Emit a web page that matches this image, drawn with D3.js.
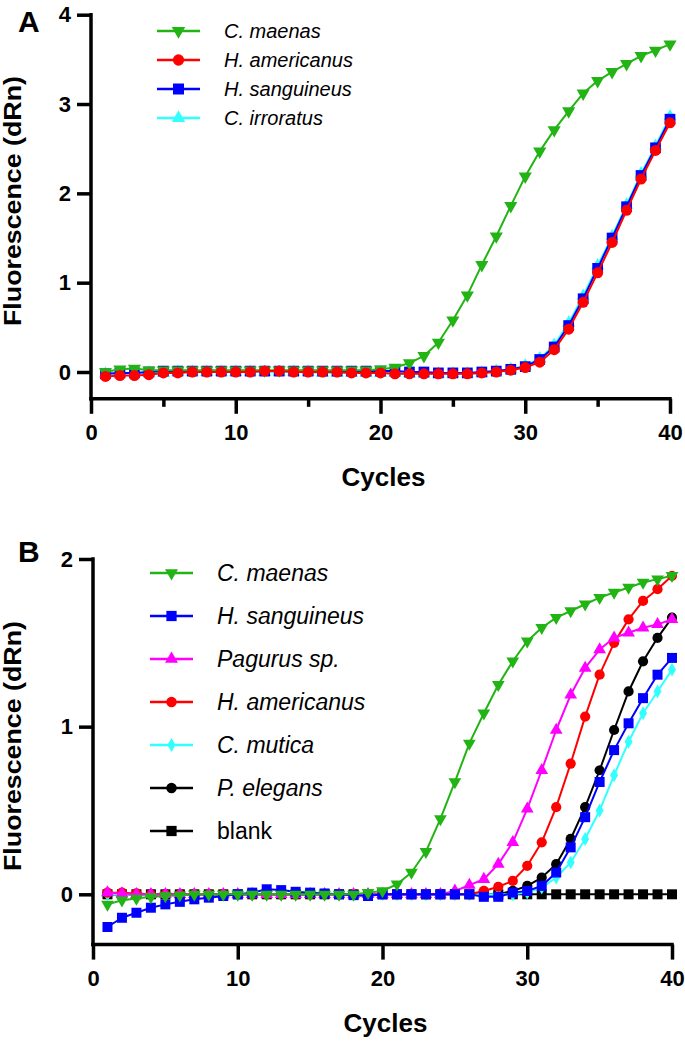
<!DOCTYPE html>
<html><head><meta charset="utf-8">
<script src="https://cdn.jsdelivr.net/npm/d3@7"></script>
<style>body{margin:0;background:#fff} svg{display:block} text{font-family:"Liberation Sans",Arial,Helvetica,sans-serif}</style>
</head><body><svg id="c" width="685" height="1042"></svg>
<script>
// ---------- DATA ----------
const cycles = [1,2,3,4,5,6,7,8,9,10,11,12,13,14,15,16,17,18,19,20,21,22,23,24,25,26,27,28,29,30,31,32,33,34,35,36,37,38,39,40];
const xTickLabels = [0,10,20,30,40];
const xMinorTicksA = [5,15,25,35];
const yTickLabelsA = [0,1,2,3,4];
const yTickLabelsB = [0,1,2];

// Panel A
const namesA = ["C. maenas","H. americanus","H. sanguineus","C. irroratus"];
const aMaenas = [0.00,0.03,0.04,0.02,0.02,0.02,0.02,0.02,0.02,0.02,0.02,0.02,0.02,0.02,0.02,0.02,0.02,0.02,0.02,0.03,0.05,0.10,0.18,0.33,0.58,0.86,1.20,1.52,1.86,2.19,2.47,2.71,2.92,3.12,3.26,3.36,3.45,3.54,3.60,3.67];
const aAmericanus = [-0.05,-0.04,-0.04,-0.03,-0.01,-0.01,0,0,0,0,0,0.01,0.01,0,0,0,0,-0.01,-0.01,-0.01,-0.02,-0.02,-0.02,-0.02,-0.02,-0.02,-0.01,0.00,0.02,0.05,0.11,0.25,0.48,0.78,1.11,1.45,1.81,2.16,2.48,2.79];
const aSanguineus = [-0.02,-0.01,-0.01,0,0.01,0.01,0.01,0.01,0.01,0.01,0.01,0.01,0.01,0.01,0.01,0.01,0.01,0.01,0.01,0.01,0.01,0,0,-0.01,-0.01,-0.01,0,0.01,0.03,0.06,0.14,0.28,0.52,0.82,1.16,1.50,1.85,2.20,2.51,2.83];
const aIrroratus = [-0.02,-0.02,-0.01,-0.01,-0.01,0,0,0,0,0,0,0,0,0,0,-0.01,-0.01,-0.01,-0.01,-0.01,-0.01,-0.02,-0.02,-0.02,-0.02,-0.02,-0.01,0.01,0.03,0.07,0.15,0.30,0.55,0.85,1.19,1.52,1.87,2.22,2.53,2.86];

// Panel B
const namesB = ["C. maenas","H. sanguineus","Pagurus sp.","H. americanus","C. mutica","P. elegans","blank"];
const bMaenas = [-0.06,-0.035,-0.025,-0.015,-0.01,-0.005,0,0,0,0,0,0,0,0,0,0,0,0,0.01,0.02,0.06,0.13,0.255,0.45,0.67,0.90,1.08,1.25,1.39,1.51,1.59,1.65,1.69,1.73,1.77,1.80,1.83,1.86,1.88,1.90];
const bSanguineus = [-0.195,-0.14,-0.11,-0.08,-0.06,-0.045,-0.03,-0.02,-0.01,0,0.01,0.03,0.025,0.015,0.01,0.005,0,-0.005,-0.01,0,0,0,0,0,0,0,-0.015,-0.015,0.01,0.02,0.05,0.13,0.28,0.46,0.67,0.86,1.02,1.17,1.31,1.41];
const bPagurus = [0.01,0.005,0,0,0,0,0,0,0,0,0,0,0,0,0,0,0,0,0,0,0,0,0,0,0.02,0.055,0.09,0.18,0.31,0.51,0.74,0.98,1.19,1.35,1.46,1.53,1.56,1.59,1.61,1.64];
const bAmericanus = [0.01,0.01,0.005,0,0,0,0,0,0,0,0,0,0,0,0,0,0,0,0,0,0,0,0,0,0,0,0.02,0.045,0.08,0.17,0.31,0.52,0.78,1.06,1.31,1.50,1.64,1.75,1.82,1.90];
const bMutica = [0,0,0,0,0,0,0,0,0,0,0,0,0,0,0,0,0,0,0,0,0,0,0,0,0,0,0,0,0,0.01,0.04,0.10,0.19,0.33,0.50,0.71,0.91,1.08,1.21,1.34];
const bElegans = [0,0,0,0,0,0,0,0,0,0,0,0,0,0,0,0,0,0,0,0,0,0,0,0,0,0,0,0,0.02,0.05,0.10,0.18,0.33,0.52,0.74,0.98,1.21,1.39,1.53,1.65];
const bBlank = [0,0,0,0,0,0,0,0,0,0,0,0,0,0,0,0,0,0,0,0,0,0,0,0,0,0,0,0,0,0,0,0,0,0,0,0,0,0,0,0];

// ---------- STYLE ----------
const GREEN="#22b414", RED="#ff0000", BLUE="#0000ff", CYAN="#33ffff", MAG="#ff00ff", BLACK="#000000";
const svg = d3.select("#c");

const sym = {
  down: {type:d3.symbolTriangle, rot:180},
  up: {type:d3.symbolTriangle, rot:0},
  circle: {type:d3.symbolCircle, rot:0},
  square: {type:d3.symbolSquare, rot:0},
  diamond: {type:d3.symbolDiamond, rot:0}
};

function panel(cfg){
  const g = svg.append("g");
  const x = d3.scaleLinear().domain([0,40]).range(cfg.xr);
  const y = d3.scaleLinear().domain(cfg.yd).range(cfg.yr);
  const y0 = cfg.yr[0];

  // series
  const line = d3.line().x((d,i)=>x(cycles[i])).y(d=>y(d));
  cfg.drawOrder.forEach(s=>{
    g.append("path").attr("d", line(s.values)).attr("fill","none")
      .attr("stroke", s.color).attr("stroke-width", 2).attr("stroke-linejoin","round");
    const m = sym[s.marker];
    g.selectAll(null).data(s.values).join("path")
      .attr("d", d3.symbol().type(m.type).size(s.size))
      .attr("transform",(d,i)=>`translate(${x(cycles[i])},${y(d)}) rotate(${m.rot})`)
      .attr("fill", s.color);
  });

  // axes
  const ax = g.append("g").attr("transform",`translate(0,${y0})`)
    .call(d3.axisBottom(x).tickValues(xTickLabels).tickSize(15).tickPadding(11).tickFormat(d3.format("d")));
  const ay = g.append("g").attr("transform",`translate(${cfg.xr[0]},0)`)
    .call(d3.axisLeft(y).tickValues(cfg.yticks).tickSize(14).tickPadding(6).tickFormat(d3.format("d")));
  if (cfg.minor) {
    g.append("g").attr("transform",`translate(0,${y0})`)
      .call(d3.axisBottom(x).tickValues(cfg.minor).tickSize(8).tickFormat(""))
      .call(a=>a.select(".domain").remove())
      .selectAll("line").attr("stroke","#000").attr("stroke-width",3.5);
  }
  [ax,ay].forEach(a=>{
    a.attr("font-size",22);
    a.select(".domain").attr("stroke","#000").attr("stroke-width",3.5);
    a.selectAll(".tick line").attr("stroke","#000").attr("stroke-width",3.5);
    a.selectAll(".tick text").attr("font-size",22).attr("font-weight","bold").attr("fill","#000")
      .style("font-family",'"Liberation Sans",Arial,sans-serif');
  });
  ax.select(".domain").attr("d",`M${cfg.xr[0]-1.75},0H${cfg.xr[1]+1.75}`);
  ay.select(".domain").attr("d",`M0,${cfg.yr[0]+1.75}V${cfg.yr[1]-1.75}`);

  // titles
  g.append("text").attr("x",(cfg.xr[0]+cfg.xr[1])/2+3).attr("y",cfg.cyclesY)
    .attr("text-anchor","middle").attr("font-size",26).attr("font-weight","bold").text("Cycles");
  g.append("text").attr("transform",`translate(21,${cfg.titleCY}) rotate(-90)`)
    .attr("text-anchor","middle").attr("font-size",23).attr("font-weight","bold")
    .attr("textLength",250).attr("lengthAdjust","spacingAndGlyphs")
    .text("Fluorescence (dRn)");
  g.append("text").attr("x",18).attr("y",cfg.labelY).attr("font-size",30).attr("font-weight","bold").text(cfg.label);

  // legend
  cfg.legend.forEach((s,i)=>{
    const ly = cfg.leg.y0 + i*cfg.leg.dy;
    g.append("line").attr("x1",cfg.leg.x1).attr("x2",cfg.leg.x2).attr("y1",ly).attr("y2",ly)
      .attr("stroke",s.color).attr("stroke-width",2.5);
    const m = sym[s.marker];
    g.append("path").attr("d", d3.symbol().type(m.type).size(s.size*1.05))
      .attr("transform",`translate(${(cfg.leg.x1+cfg.leg.x2)/2},${ly}) rotate(${m.rot})`).attr("fill",s.color);
    g.append("text").attr("x",cfg.leg.tx).attr("y",ly).attr("dy","0.36em")
      .attr("font-size",cfg.leg.fs).attr("font-style", s.italic===false?"normal":"italic").text(s.name);
  });
}

// Panel A
const sA = {
  maenas:{name:namesA[0], values:aMaenas, color:GREEN, marker:"down", size:75},
  amer:{name:namesA[1], values:aAmericanus, color:RED, marker:"circle", size:95},
  sang:{name:namesA[2], values:aSanguineus, color:BLUE, marker:"square", size:115},
  irro:{name:namesA[3], values:aIrroratus, color:CYAN, marker:"up", size:75}
};
panel({
  xr:[91,670], yd:[-0.3,4], yr:[398.8,14.7], yticks:yTickLabelsA, minor:xMinorTicksA,
  drawOrder:[sA.irro,sA.sang,sA.maenas,sA.amer],
  legend:[sA.maenas,sA.amer,sA.sang,sA.irro],
  leg:{x1:157,x2:200,tx:224,y0:31,dy:29,fs:20},
  cyclesY:486, titleCY:201, label:"A", labelY:32
});

// Panel B
const sB = {
  maenas:{name:namesB[0], values:bMaenas, color:GREEN, marker:"down", size:70},
  sang:{name:namesB[1], values:bSanguineus, color:BLUE, marker:"square", size:100},
  pag:{name:namesB[2], values:bPagurus, color:MAG, marker:"up", size:70},
  amer:{name:namesB[3], values:bAmericanus, color:RED, marker:"circle", size:82},
  mut:{name:namesB[4], values:bMutica, color:CYAN, marker:"diamond", size:55},
  ele:{name:namesB[5], values:bElegans, color:BLACK, marker:"circle", size:82},
  blank:{name:namesB[6], values:bBlank, color:BLACK, marker:"square", size:100, italic:false}
};
panel({
  xr:[93,672], yd:[-0.3,2], yr:[944.6,559], yticks:yTickLabelsB, minor:null,
  drawOrder:[sB.blank,sB.ele,sB.mut,sB.amer,sB.pag,sB.sang,sB.maenas],
  legend:[sB.maenas,sB.sang,sB.pag,sB.amer,sB.mut,sB.ele,sB.blank],
  leg:{x1:150,x2:193,tx:217,y0:573,dy:43,fs:23},
  cyclesY:1032, titleCY:746, label:"B", labelY:562
});
</script></body></html>
